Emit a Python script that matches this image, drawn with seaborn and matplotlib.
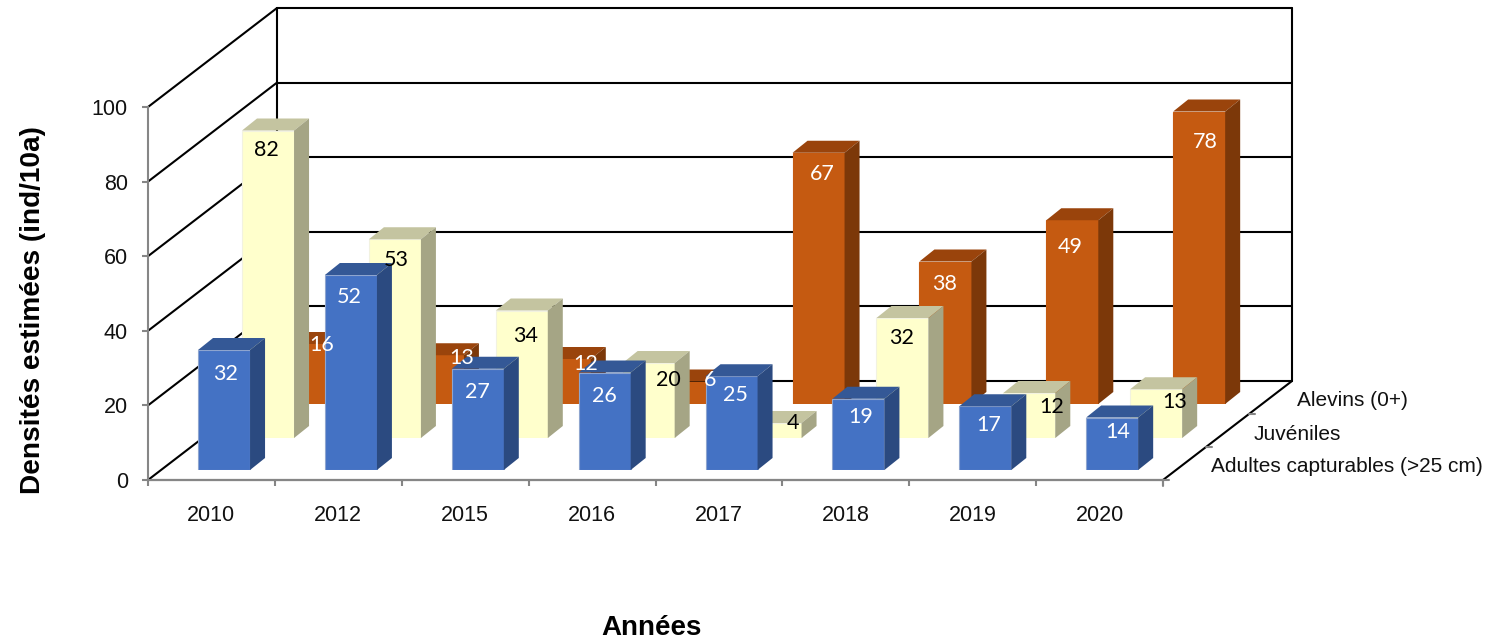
"""Densités estimées par année : barres pseudo 3D, une rangée par stade."""
import pandas as pd
import matplotlib
matplotlib.use("Agg")
import matplotlib.pyplot as plt
import seaborn as sns
from matplotlib.patches import Polygon
from matplotlib.transforms import IdentityTransform

years = ["2010", "2012", "2015", "2016", "2017", "2018", "2019", "2020"]
adultes = [32, 52, 27, 26, 25, 19, 17, 14]
juveniles = [82, 53, 34, 20, 4, 32, 12, 13]
alevins = [16, 13, 12, 6, 67, 38, 49, 78]
y_ticks = [0, 20, 40, 60, 80, 100]
row_names = ["Adultes capturables (>25 cm)", "Juvéniles", "Alevins (0+)"]

# placement of the value labels, in pixels from the top centre of each bar
nudge_adultes = [(2, -24), (-2, -22), (0, -23), (0, -23), (4, -19), (2, -18), (3, -19), (6, -15)]
nudge_juveniles = [(-2, -20), (1, -21), (4, -25), (20, -17), (17, 0), (-1, -20), (22, -14), (19, -13)]
nudge_alevins = [(11, -1), (24, -3), (21, -5), (18, 1), (4, -21), (-1, -23), (-2, -27), (6, -30)]

W, H = 1506, 639
DEPTH_X, DEPTH_Y = 129, 99   # depth of the floor in pixels
BAR_DX, BAR_DY = 15, 12      # depth of a bar in pixels

sns.set_theme(style="white")
plt.rcParams["font.family"] = ["Liberation Sans", "DejaVu Sans"]

fig = plt.figure(figsize=(W / 100, H / 100), dpi=100, facecolor="white")


def add_axes_px(left, baseline, width, height, zorder):
    """Axes placed with pixel values measured from the top left of the image."""
    ax = fig.add_axes([left / W, 1 - baseline / H, width / W, height / H], zorder=zorder)
    ax.patch.set_visible(False)
    return ax


# ── frame: walls, floor, axes ──
frame = add_axes_px(148, 480, 1015, 373, 1)
frame.set_xlim(-0.5, 7.5)
frame.set_ylim(0, 100)
sns.despine(ax=frame, top=True, right=True)
for side in ["left", "bottom"]:
    frame.spines[side].set_color("#868686")
    frame.spines[side].set_linewidth(1.5)

frame.set_xticks([i - 0.5 for i in range(len(years) + 1)])
frame.set_xticklabels([])
frame.set_xticks(range(len(years)), labels=years, minor=True)
frame.tick_params(axis="x", which="major", length=4.5, width=1.5, color="#868686", bottom=True)
frame.tick_params(axis="x", which="minor", length=0, pad=18, labelsize=15.5, labelcolor="#111111")
frame.set_yticks(y_ticks)
frame.tick_params(axis="y", length=4.5, width=1.5, color="#868686", left=True, pad=10,
                  labelsize=15.5, labelcolor="#111111")

to_disp = frame.transData.transform
line_kw = dict(color="black", lw=1.5, transform=IdentityTransform(), clip_on=False, zorder=1,
               solid_capstyle="round")
for v in y_ticks:
    x0, y0 = to_disp((-0.5, v))
    x1, y1 = to_disp((7.5, v))
    frame.plot([x0, x0 + DEPTH_X], [y0, y0 + DEPTH_Y], **line_kw)
    frame.plot([x0 + DEPTH_X, x1 + DEPTH_X], [y0 + DEPTH_Y, y1 + DEPTH_Y], **line_kw)

x0, y0 = to_disp((-0.5, 0))
x1, y1 = to_disp((7.5, 0))
xt, yt = to_disp((-0.5, 100))
frame.plot([x0 + DEPTH_X] * 2, [y0 + DEPTH_Y, yt + DEPTH_Y], **line_kw)
frame.plot([x1 + DEPTH_X] * 2, [y0 + DEPTH_Y, yt + DEPTH_Y], **line_kw)
frame.plot([x1, x1 + DEPTH_X], [y1, y1 + DEPTH_Y], **line_kw)
frame.plot([x0, x1], [y0, y0], **line_kw)

# depth ticks and row names on the right diagonal
for k, name in enumerate(row_names):
    xk = x1 + DEPTH_X * k / 3
    yk = y1 + DEPTH_Y * k / 3
    frame.plot([xk, xk + 6], [yk, yk], color="#868686", lw=1.5,
               transform=IdentityTransform(), clip_on=False, zorder=1)
    fig.text((xk + 48) / W, (yk + 14) / H - 1 / H, name, fontsize=15, color="#111111",
             ha="left", va="center")
frame.plot([x1, x1], [y1, y1 - 6], color="#868686", lw=1.5,
           transform=IdentityTransform(), clip_on=False, zorder=1)

frame.set_ylabel("Densités estimées (ind/10a)", fontsize=20.2, fontweight="bold", color="black")
frame.yaxis.set_label_coords((33 - 148) / 1015, (480 - 310) / 373)
frame.yaxis.label.set_verticalalignment("center")
frame.set_xlabel("Années", fontsize=20, fontweight="bold", color="black")
frame.xaxis.set_label_coords((651 - 148) / 1015, (480 - 628) / 373)
frame.xaxis.label.set_verticalalignment("center")


# ── bars: one transparent axes per row, back to front ──
def draw_row(values, left, baseline, zorder, front, top, side, edge, text_color, nudges):
    ax = add_axes_px(left, baseline, 1015, 375, zorder)
    df = pd.DataFrame({"annee": years, "densite": values})
    sns.barplot(data=df, x="annee", y="densite", width=0.41, color=front, saturation=1,
                edgecolor=edge, linewidth=0.8, ax=ax)
    ax.set_xlim(-0.5, 7.5)
    ax.set_ylim(0, 100)
    ax.axis("off")
    for bar, val, (dx, dy) in zip(ax.patches, values, nudges):
        xa, ya = ax.transData.transform((bar.get_x(), 0))
        xb, yb = ax.transData.transform((bar.get_x() + bar.get_width(), bar.get_height()))
        face_top = [(xa, yb), (xb, yb), (xb + BAR_DX, yb + BAR_DY), (xa + BAR_DX, yb + BAR_DY)]
        face_side = [(xb, ya), (xb + BAR_DX, ya + BAR_DY), (xb + BAR_DX, yb + BAR_DY), (xb, yb)]
        for pts, col in [(face_top, top), (face_side, side)]:
            ax.add_patch(Polygon(pts, closed=True, facecolor=col, edgecolor="none",
                                 transform=IdentityTransform(), clip_on=False, zorder=1))
        # labels sit above every row, so they go on the figure and not in this axes
        fig.text((xa + xb) / 2 + dx, yb + dy, str(val), transform=IdentityTransform(),
                 ha="center", va="center", fontsize=15.5, family=["Lato", "DejaVu Sans"],
                 color=text_color, zorder=10)


draw_row(alevins, 160.6 + 87, 404, 2, "#C55A11", "#9A440C", "#7C3809", "#C55A11", "white", nudge_alevins)
draw_row(juveniles, 160.6 + 44, 438, 3, "#FFFFCC", "#C4C4A0", "#A5A585", "#F2F2E0", "black", nudge_juveniles)
draw_row(adultes, 160.6, 470, 4, "#4472C4", "#345896", "#2B4A80", "#8EA5CF", "white", nudge_adultes)

fig.savefig("out.png", dpi=100, facecolor="white")
